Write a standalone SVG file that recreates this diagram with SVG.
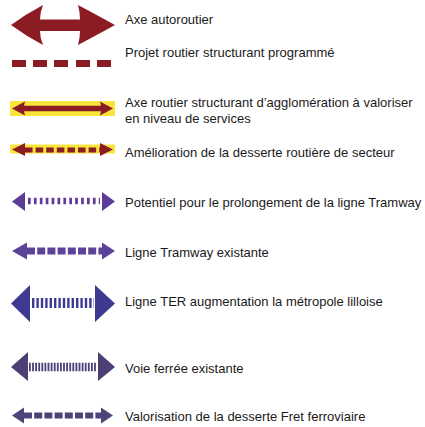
<svg xmlns="http://www.w3.org/2000/svg" width="425" height="427" viewBox="0 0 425 427">
<style>
text{font-family:"Liberation Sans",Arial,sans-serif;font-size:13px;fill:#1a1a1a}
.red{fill:#8b1c23}
.redS{stroke:#8b1c23;fill:none}
.yel{fill:#f8e53c}
</style>
<rect width="425" height="427" fill="#ffffff"/>
<g id="axe-autoroutier">
<path class="red" d="M11,25 Q26,14 43,5 Q40,12 40,19.5 L80,19.5 Q80,12 78,5 Q95,14 115,25 Q95,36 78,45 Q80,38 80,31 L40,31 Q40,38 43,45 Q26,36 11,25 Z"/>
<text x="125" y="24">Axe  autoroutier</text>
</g>
<g id="projet-routier">
<rect class="red" x="12" y="60" width="14" height="7"/>
<rect class="red" x="33" y="60" width="14" height="7"/>
<rect class="red" x="54" y="60" width="14" height="7"/>
<rect class="red" x="76" y="60" width="14" height="7"/>
<rect class="red" x="97" y="60" width="14" height="7"/>
<text x="125" y="57">Projet routier structurant programmé</text>
</g>
<g id="axe-agglo">
<rect class="yel" x="10" y="101" width="105" height="15"/>
<path class="red" d="M12,108.5 L25,101.5 L24,105.8 L101,105.8 L100,101.5 L113,108.5 L100,115.5 L101,111.2 L24,111.2 L25,115.5 Z"/>
<text x="125" y="107">Axe routier structurant d’agglomération à valoriser</text>
<text x="125" y="123">en niveau de services</text>
</g>
<g id="desserte-routiere">
<rect class="yel" x="10" y="144.5" width="105" height="9"/>
<path class="red" d="M12,149.5 L25,143 L25,156 Z M113,149.5 L100,143 L100,156 Z"/>
<line class="redS" x1="25" y1="150" x2="100" y2="150" stroke-width="5" stroke-dasharray="7.6 3"/>
<text x="125" y="157">Amélioration de la desserte routière de secteur</text>
</g>
<g id="tram-potentiel" fill="#5c3b99">
<path d="M12,201.5 L25,192 L25,211 Z M115,201.5 L102,192 L102,211 Z"/>
<line x1="28" y1="201" x2="100" y2="201" stroke="#5c3b99" stroke-width="6.5" stroke-dasharray="2.7 3.2"/>
<text x="125" y="207">Potentiel pour le prolongement de la ligne Tramway</text>
</g>
<g id="tram-existante" fill="#5c4299">
<path d="M12,251 L27,242.5 L27,259.5 Z M115,251 L102,242.5 L102,259.5 Z"/>
<line x1="27" y1="251" x2="102" y2="251" stroke="#5c4299" stroke-width="7" stroke-dasharray="8 2.2"/>
<text x="125" y="257">Ligne Tramway existante</text>
</g>
<g id="ter" fill="#3e3a92">
<path d="M11,303.5 L30,285 L30,322 Z M115,303.5 L95,285 L95,322 Z"/>
<line x1="32" y1="303" x2="94" y2="303" stroke="#3e3a92" stroke-width="10" stroke-dasharray="2.4 2"/>
<text x="125" y="306">Ligne TER augmentation la métropole lilloise</text>
</g>
<g id="voie-ferree" fill="#4b3f75">
<path d="M11,367 L28,352 L28,381 Z M115,367 L98,352 L98,381 Z"/>
<line x1="29" y1="367" x2="97" y2="367" stroke="#4b3f75" stroke-width="8.5" stroke-dasharray="1.8 1.3"/>
<text x="125" y="373">Voie  ferrée  existante</text>
</g>
<g id="fret" fill="#4e4478">
<path d="M12,415.5 L24,407.5 L24,423.5 Z M113,415.5 L101,407.5 L101,423.5 Z"/>
<line x1="24" y1="415.5" x2="101" y2="415.5" stroke="#4e4478" stroke-width="6" stroke-dasharray="8 2.2"/>
<text x="125" y="421">Valorisation de la desserte Fret ferroviaire</text>
</g>
</svg>
